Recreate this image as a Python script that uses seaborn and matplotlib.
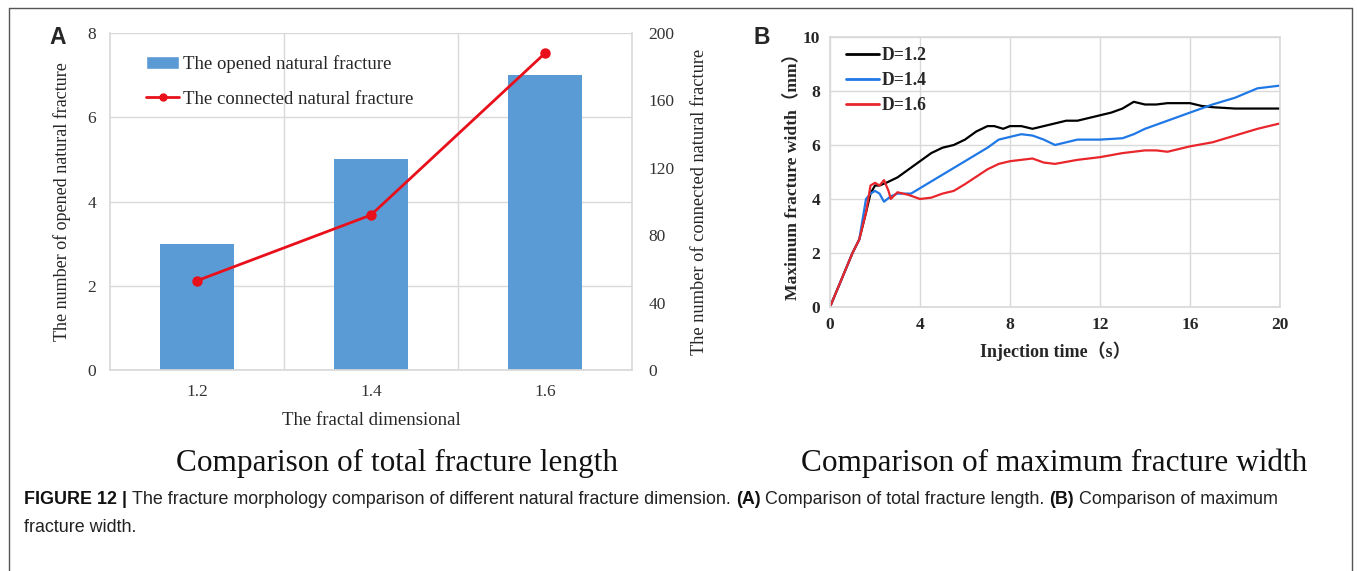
import matplotlib
matplotlib.use("Agg")
import matplotlib.pyplot as plt
import seaborn as sns
import pandas as pd
from matplotlib.lines import Line2D
from matplotlib.patches import Patch

# ---------------- data ----------------
dims = ["1.2", "1.4", "1.6"]
opened = [3, 5, 7]
connected = [53, 92, 188]

t_12 = [0, 0.5, 1, 1.3, 1.6, 1.8, 2.0, 2.2, 2.5, 3, 3.5, 4, 4.5, 5, 5.5, 6, 6.5, 7, 7.3, 7.7, 8,
        8.5, 9, 9.5, 10, 10.5, 11, 11.5, 12, 12.5, 13, 13.5, 14, 14.5, 15, 16, 16.5, 17, 18, 19, 20]
w_12 = [0, 1, 2, 2.5, 3.5, 4.2, 4.5, 4.5, 4.6, 4.8, 5.1, 5.4, 5.7, 5.9, 6.0, 6.2, 6.5, 6.7, 6.7, 6.6, 6.7,
        6.7, 6.6, 6.7, 6.8, 6.9, 6.9, 7.0, 7.1, 7.2, 7.35, 7.6, 7.5, 7.5, 7.55, 7.55, 7.45, 7.4, 7.35, 7.35, 7.35]
t_14 = [0, 1, 1.3, 1.6, 1.8, 2.0, 2.2, 2.4, 2.7, 3.0, 3.6, 4, 5, 6, 7, 7.5, 8, 8.5, 9, 9.5, 10,
        10.5, 11, 12, 13, 13.5, 14, 15, 16, 17, 18, 19, 19.5, 20]
w_14 = [0, 2, 2.5, 4.0, 4.2, 4.3, 4.2, 3.9, 4.1, 4.2, 4.2, 4.4, 4.9, 5.4, 5.9, 6.2, 6.3, 6.4, 6.35, 6.2, 6.0,
        6.1, 6.2, 6.2, 6.25, 6.4, 6.6, 6.9, 7.2, 7.5, 7.75, 8.1, 8.15, 8.2]
t_16 = [0, 1, 1.3, 1.6, 1.8, 2.0, 2.2, 2.4, 2.6, 2.7, 3, 3.5, 4, 4.5, 5, 5.5, 6, 7, 7.5, 8, 8.5, 9,
        9.5, 10, 11, 12, 13, 14, 14.5, 15, 16, 17, 18, 19, 20]
w_16 = [0, 2, 2.5, 3.5, 4.5, 4.6, 4.5, 4.7, 4.3, 4.0, 4.25, 4.15, 4.0, 4.05, 4.2, 4.3, 4.55, 5.1, 5.3, 5.4, 5.45, 5.5,
        5.35, 5.3, 5.45, 5.55, 5.7, 5.8, 5.8, 5.75, 5.95, 6.1, 6.35, 6.6, 6.8]
series_names = ["D=1.2", "D=1.4", "D=1.6"]
series_colors = ["#000000", "#1f78e6", "#e8262b"]

# ---------------- figure ----------------
sns.set_theme(style="white")
W, H = 1357, 571
fig = plt.figure(figsize=(W / 100, H / 100), dpi=100)
fig.patch.set_facecolor("white")

def fx(px):
    return px / W

def fy(py):
    return 1 - py / H

serif = ["Liberation Serif", "DejaVu Serif"]
grid_c = "#d9d9d9"

# border frame
for xs, ys in [([9, 9], [H, 8]), ([9, 1352], [8, 8]), ([1352, 1352], [8, H])]:
    fig.add_artist(Line2D([fx(x) for x in xs], [fy(y) for y in ys], color="#555555", lw=1.0))

# ---------------- Panel A ----------------
axA = fig.add_axes([fx(110), fy(370), fx(632) - fx(110), fy(33) - fy(370)])
dfA = pd.DataFrame({"dim": dims, "opened": opened})
sns.barplot(data=dfA, x="dim", y="opened", ax=axA, color="#5b9bd5", width=0.42,
            saturation=1, edgecolor="none")
axA.set_ylim(0, 8)
axA.set_xlim(-0.5, 2.5)
axA.set_yticks([0, 2, 4, 6, 8])
axA.yaxis.grid(True, color=grid_c, lw=1)
for xb in [0.5, 1.5]:
    axA.axvline(xb, color=grid_c, lw=1, zorder=0)
axA.set_axisbelow(True)
for s in axA.spines.values():
    s.set_color(grid_c)
axA.spines["top"].set_visible(False)
axA.set_xlabel("The fractal dimensional", fontfamily=serif, fontsize=13.5, labelpad=9)
axA.set_ylabel("The number of opened natural fracture", fontfamily=serif, fontsize=13, labelpad=12)
axA.tick_params(axis="both", length=0, labelsize=12.5, pad=10)
for lab in axA.get_xticklabels() + axA.get_yticklabels():
    lab.set_fontfamily(serif)
    lab.set_color("#333333")

axA2 = axA.twinx()
sns.pointplot(x=dims, y=connected, ax=axA2, color="#e8101a", markers="o",
              markersize=6, linewidth=2)
axA2.set_xlim(-0.5, 2.5)
axA2.set_ylim(0, 200)
axA2.set_yticks([0, 40, 80, 120, 160, 200])
for s in axA2.spines.values():
    s.set_visible(False)
axA2.set_ylabel("The number of connected natural fracture", fontfamily=serif, fontsize=13.2, labelpad=12)
axA2.tick_params(axis="y", length=0, labelsize=12.5, pad=12)
for lab in axA2.get_yticklabels():
    lab.set_fontfamily(serif)
    lab.set_color("#333333")

legA = axA.legend(handles=[Patch(facecolor="#5b9bd5", label="The opened natural fracture"),
                           Line2D([], [], color="#e8101a", marker="o", markersize=5, lw=2,
                                  label="The connected natural fracture")],
                  loc="upper left", bbox_to_anchor=(0.037, 0.985), frameon=False,
                  prop={"family": serif, "size": 13.5}, handlelength=1.75, handletextpad=0.2,
                  labelspacing=0.95)

fig.text(fx(58), fy(37), "A", fontsize=16.5, fontweight="bold",
         fontfamily=["Liberation Sans", "DejaVu Sans"], ha="center", va="center")

# ---------------- Panel B ----------------
axB = fig.add_axes([fx(830), fy(307), fx(1280) - fx(830), fy(37) - fy(307)])
dfB = pd.concat([
    pd.DataFrame({"t": t_12, "w": w_12, "D": series_names[0]}),
    pd.DataFrame({"t": t_14, "w": w_14, "D": series_names[1]}),
    pd.DataFrame({"t": t_16, "w": w_16, "D": series_names[2]}),
], ignore_index=True)
sns.lineplot(data=dfB, x="t", y="w", hue="D", palette=series_colors, ax=axB,
             estimator=None, sort=False, lw=1.6)
axB.set_xlim(0, 20)
axB.set_ylim(0, 10)
axB.set_xticks([0, 4, 8, 12, 16, 20])
axB.set_yticks([0, 2, 4, 6, 8, 10])
axB.grid(True, color=grid_c, lw=1)
for s in axB.spines.values():
    s.set_color(grid_c)
axB.tick_params(axis="both", length=0, labelsize=12.5, pad=7)
for lab in axB.get_xticklabels() + axB.get_yticklabels():
    lab.set_fontfamily(serif)
    lab.set_fontweight("bold")
axB.set_xlabel("Injection time（s）", fontfamily=serif + ["Noto Sans CJK SC"], fontsize=13,
               fontweight="bold", labelpad=6)
axB.set_ylabel("Maximum fracture width（mm）", fontfamily=serif + ["Noto Sans CJK SC"],
               fontsize=12.6, fontweight="bold", labelpad=2)
legB = axB.legend(loc="upper left", frameon=False, title=None,
                  prop={"family": serif, "size": 12.7, "weight": "bold"},
                  handlelength=1.85, handletextpad=0.2, labelspacing=0.45,
                  bbox_to_anchor=(0.0, 1.02))
for ln in legB.get_lines():
    ln.set_linewidth(2)

fig.text(fx(762), fy(37), "B", fontsize=16.5, fontweight="bold",
         fontfamily=["Liberation Sans", "DejaVu Sans"], ha="center", va="center")

# ---------------- subtitles & caption ----------------
fig.text(fx(397), fy(463), "Comparison of total fracture length", fontfamily=serif,
         fontsize=22.5, ha="center", va="center", color="#111111")
fig.text(fx(1054), fy(463), "Comparison of maximum fracture width", fontfamily=serif,
         fontsize=22.5, ha="center", va="center", color="#111111")

sans = ["Liberation Sans", "DejaVu Sans"]
cap_y = fy(499)
parts = [("FIGURE 12", "bold"), (" | ", "bold"),
         ("The fracture morphology comparison of different natural fracture dimension. ", "normal"),
         ("(A)", "bold"), (" Comparison of total fracture length. ", "normal"),
         ("(B)", "bold"), (" Comparison of maximum", "normal")]
fig.canvas.draw()
r = fig.canvas.get_renderer()
fs0 = 10.0
tot = 0
for txt, wt in parts:
    tt = fig.text(0, 0, txt, fontfamily=sans, fontsize=fs0, fontweight=wt)
    tot += tt.get_window_extent(r).width
    tt.remove()
fs = fs0 * (1282 - 24) / tot
x_cur = 24
for txt, wt in parts:
    tt = fig.text(x_cur / W, cap_y, txt, fontfamily=sans, fontsize=fs, fontweight=wt,
                  ha="left", va="center", color="#222222" if wt == "normal" else "#111111")
    x_cur = tt.get_window_extent(r).x1
fig.text(fx(24), fy(528), "fracture width.", fontfamily=sans, fontsize=fs,
         ha="left", va="center", color="#222222")

fig.savefig("out.png", dpi=100, facecolor="white")
